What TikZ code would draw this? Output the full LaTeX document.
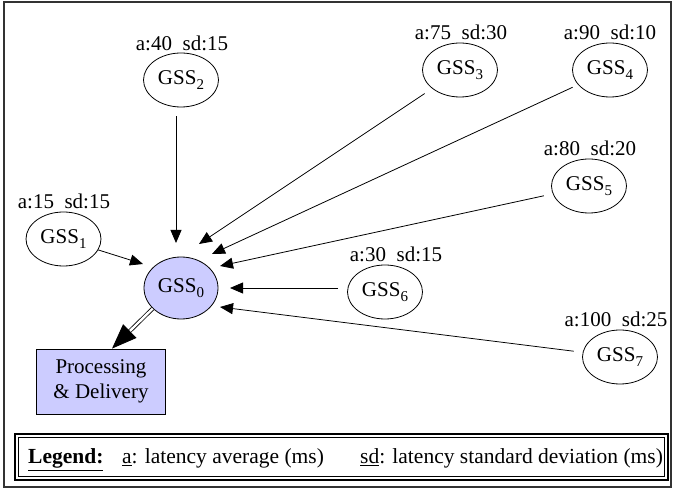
\documentclass[tikz,border=0pt]{standalone}
\usepackage{fontspec}
\setmainfont{Liberation Serif}
\usetikzlibrary{arrows.meta,shapes.geometric,calc}
\definecolor{gssfill}{HTML}{CCCCFF}
\newcommand\gsub[1]{\raisebox{-4.5pt}{\fontsize{15}{15}\selectfont #1}}
\begin{document}
\begin{tikzpicture}[x=1pt,y=-1pt,
  txt/.style={font=\fontsize{21}{25}\selectfont},
  gss/.style={ellipse,draw,line width=0.8pt,minimum width=75pt,minimum height=54pt,inner sep=0pt,txt},
  lab/.style={inner sep=0pt,txt},
  conn/.style={-{Triangle[length=13pt,width=11pt]},line width=0.8pt,shorten <=9pt},
]
\useasboundingbox (0,0) rectangle (673,489);
\draw[black!80,line width=1.2pt] (4,2) rectangle (671,487);

% nodes
\node[gss,fill=gssfill,minimum width=74pt,minimum height=62pt] (g0) at (181,288) {GSS\gsub{0}};
\node[gss] (g1) at (63.5,239) {GSS\gsub{1}};
\node[gss] (g2) at (181,80) {GSS\gsub{2}};
\node[gss] (g3) at (460,70) {GSS\gsub{3}};
\node[gss] (g4) at (610,70) {GSS\gsub{4}};
\node[gss] (g5) at (589,186) {GSS\gsub{5}};
\node[gss] (g6) at (385,292) {GSS\gsub{6}};
\node[gss] (g7) at (620,357) {GSS\gsub{7}};

\node[lab] (l1) at (64,201) {a:15\hspace{0.5em}sd:15};
\node[lab] (l2) at (182,43) {a:40\hspace{0.5em}sd:15};
\node[lab] (l3) at (461,32) {a:75\hspace{0.5em}sd:30};
\node[lab] (l4) at (610,32) {a:90\hspace{0.5em}sd:10};
\node[lab] (l5) at (590,148) {a:80\hspace{0.5em}sd:20};
\node[lab] (l6) at (396,254) {a:30\hspace{0.5em}sd:15};
\node[lab] (l7) at (616,319) {a:100\hspace{0.5em}sd:25};

\node[draw,fill=gssfill,line width=0.8pt,minimum width=128.5pt,minimum height=65pt,align=center,inner sep=0pt,txt] (proc) at (101,381.5) {Processing\\\& Delivery};

% arrow tips near GSS0
\coordinate (t1) at ($(g0.center)+(-38,-24)$);
\coordinate (t2) at ($(g0.center)+(-5,-45)$);
\coordinate (t3) at ($(g0.center)+(18,-44)$);
\coordinate (t4) at ($(g0.center)+(31,-34)$);
\coordinate (t5) at ($(g0.center)+(39,-22)$);
\coordinate (t6) at ($(g0.center)+(49,0)$);
\coordinate (t7) at ($(g0.center)+(39,19)$);

\draw[conn,shorten <=0pt] (g1) -- (t1);
\draw[conn] (g2.south -| t2) -- (t2);
\draw[conn] (g3) -- (t3);
\draw[conn,shorten <=6pt] (g4) -- (t4);
\draw[conn] (g5) -- (t5);
\draw[conn] (g6.west |- t6) -- (t6);
\draw[conn] (g7) -- (t7);

% double arrow to processing
\coordinate (pt) at ([xshift=11pt]proc.north);
\draw[double,double distance=2.4pt,line width=0.8pt,shorten >=20pt] (g0.216) -- (pt);
\draw[line width=0.8pt,-{Triangle[length=25pt,width=19pt]}] ($(pt)!25pt!(g0.216)$) -- (pt);

% legend
\draw[line width=1.5pt] (15,434) rectangle (668,480);
\draw[line width=0.8pt] (18.5,437.5) rectangle (664.5,476.5);
\node[anchor=base west,inner sep=0pt,font=\fontsize{21.5}{25}\selectfont] (leg) at (28,464) {\textbf{\underline{Legend:}}};
\node[anchor=base west,inner sep=0pt,font=\fontsize{21.5}{25}\selectfont] (la) at (122,464) {\underline{a}: latency average (ms)};
\node[anchor=base west,inner sep=0pt,font=\fontsize{21.5}{25}\selectfont] (lsd) at (360,464) {\underline{sd}: latency standard deviation (ms)};
\end{tikzpicture}
\end{document}
